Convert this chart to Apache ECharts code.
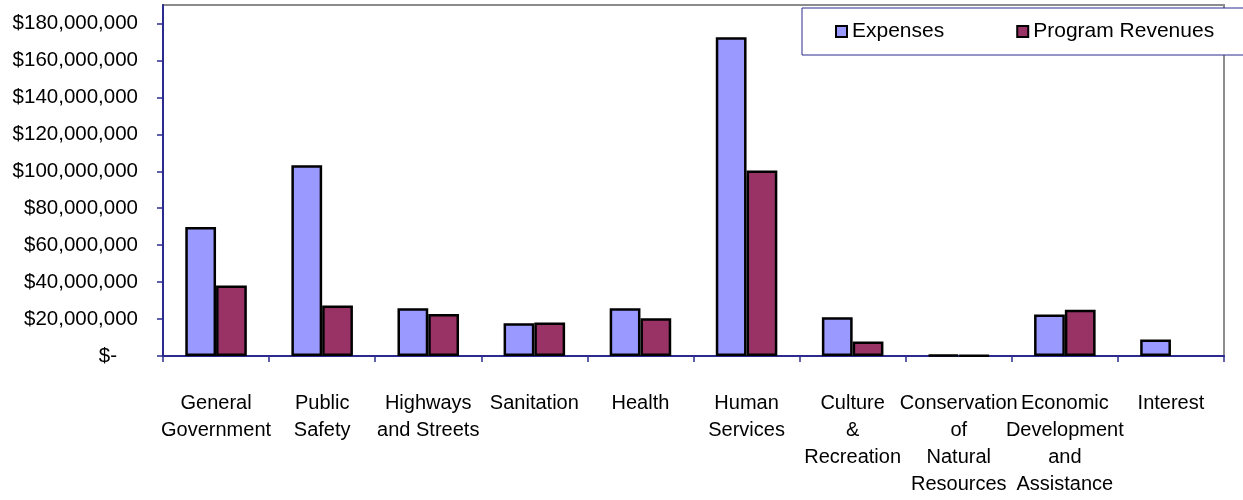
<!DOCTYPE html>
<html>
<head>
<meta charset="utf-8">
<title>Expenses and Program Revenues by Function</title>
<script src="https://cdn.jsdelivr.net/npm/echarts@6/dist/echarts.min.js"></script>
<style>
  html, body { margin: 0; padding: 0; background: #ffffff; }
  #chart { width: 1243px; height: 500px; }
</style>
</head>
<body>
<div id="chart"></div>
<script>
// Functional categories along the x axis
const categories = [
  'General\nGovernment',
  'Public\nSafety',
  'Highways\nand Streets',
  'Sanitation',
  'Health',
  'Human\nServices',
  'Culture\n&\nRecreation',
  'Conservation\nof\nNatural\nResources',
  'Economic\nDevelopment\nand\nAssistance',
  'Interest'
];

// Dollar amounts per function (no program revenue reported for Interest)
const expenses = [69800000, 103200000, 25800000, 17700000, 25800000, 172500000, 21000000, 600000, 22500000, 8900000];
const programRevenues = [38200000, 27400000, 22700000, 18100000, 20500000, 100400000, 7800000, 400000, 25000000, null];

// Labelled value-axis ticks
const valueTicks = [0, 20000000, 40000000, 60000000, 80000000, 100000000, 120000000, 140000000, 160000000, 180000000];

const FONT = "'Liberation Sans', Arial, sans-serif";
const AXIS_BLUE = '#2b2b8f';

const chart = echarts.init(document.getElementById('chart'), null, { renderer: 'canvas' });

chart.setOption({
  animation: false,
  backgroundColor: '#ffffff',
  textStyle: { fontFamily: FONT, color: '#000000' },
  grid: {
    left: 163,
    right: 19,
    top: 5,
    bottom: 144,
    show: true,
    borderColor: '#8c8c8c',
    borderWidth: 2,
    backgroundColor: '#ffffff'
  },
  legend: {
    data: ['Expenses', 'Program Revenues'],
    left: 802,
    top: 8,
    width: 600,
    orient: 'horizontal',
    icon: 'rect',
    itemWidth: 11,
    itemHeight: 11,
    itemGap: 72,
    padding: [13, 60, 13, 33],
    borderColor: AXIS_BLUE,
    borderWidth: 1,
    backgroundColor: '#ffffff',
    itemStyle: { borderColor: '#000000', borderWidth: 2 },
    textStyle: { fontSize: 21, color: '#000000', fontFamily: FONT }
  },
  xAxis: {
    type: 'category',
    data: categories,
    boundaryGap: true,
    axisLine: { show: true, lineStyle: { color: AXIS_BLUE, width: 2 } },
    axisTick: { show: true, inside: false, length: 6, lineStyle: { color: AXIS_BLUE, width: 1.5 } },
    axisLabel: {
      interval: 0,
      margin: 34,
      fontSize: 20,
      lineHeight: 27,
      color: '#000000',
      fontFamily: FONT,
      align: 'center'
    },
    splitLine: { show: false }
  },
  yAxis: {
    type: 'value',
    min: 0,
    max: 190000000,
    interval: 20000000,
    axisLine: { show: true, lineStyle: { color: AXIS_BLUE, width: 2 } },
    axisTick: { show: true, inside: false, length: 6, customValues: valueTicks, lineStyle: { color: AXIS_BLUE, width: 1.5 } },
    splitLine: { show: false },
    axisLabel: {
      customValues: valueTicks,
      margin: 25,
      fontSize: 20.5,
      color: '#000000',
      fontFamily: FONT,
      formatter: function (v) {
        if (v === 0) return '{z|$-}';
        return '$' + v.toLocaleString('en-US');
      },
      rich: {
        z: { fontSize: 20.5, fontFamily: FONT, color: '#000000', padding: [0, 21, 0, 0] }
      }
    }
  },
  series: [
    {
      name: 'Expenses',
      type: 'bar',
      data: expenses,
      barGap: '0%',
      barCategoryGap: '42%',
      itemStyle: { color: '#9999ff', borderColor: '#000000', borderWidth: 2.5 }
    },
    {
      name: 'Program Revenues',
      type: 'bar',
      data: programRevenues,
      barGap: '0%',
      barCategoryGap: '42%',
      itemStyle: { color: '#993366', borderColor: '#000000', borderWidth: 2.5 }
    }
  ]
});
</script>
</body>
</html>
